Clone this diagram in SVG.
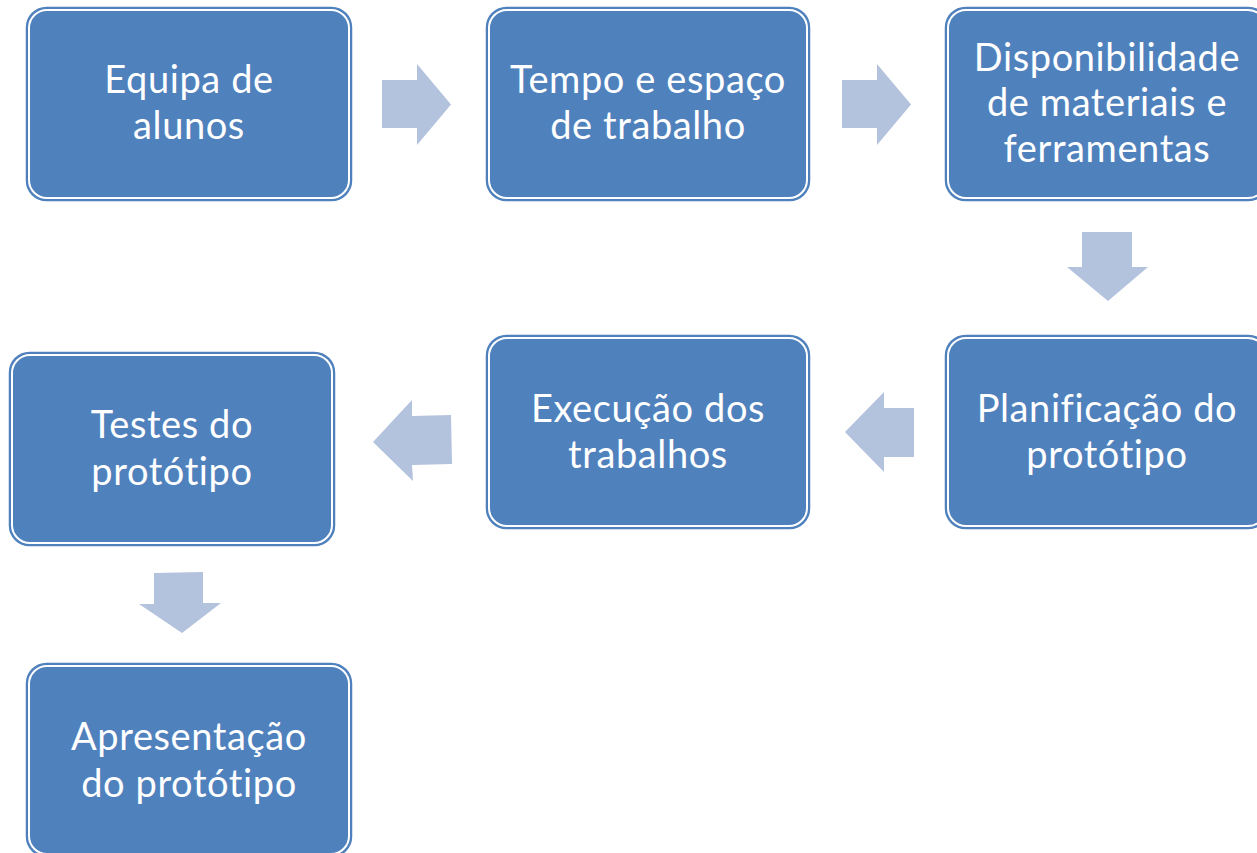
<svg xmlns="http://www.w3.org/2000/svg" width="1257" height="853" viewBox="0 0 1257 853">
<style>
.outer{fill:#4F81BD;stroke:#4F81BD;stroke-width:1.5}
.inner{fill:#4F81BD;stroke:#FFFFFF;stroke-width:2}
.lbl{font-family:Lato,"Open Sans","Liberation Sans",sans-serif;font-size:38px;font-weight:400;letter-spacing:0.6px;fill:#FFFFFF;text-anchor:middle}
.arr{fill:#B3C2DD}
</style>
<rect width="1257" height="853" fill="#FFFFFF"/>
<g id="connectors">
<polygon class="arr" points="382,80 417,80 417,64 451,104.5 417,145 417,128 382,128"/>
<polygon class="arr" points="842,80 877,80 877,64 911,104.5 877,145 877,128 842,128"/>
<polygon class="arr" points="1082,232 1132,232 1132,267 1148,267 1108,301 1067,267 1082,267"/>
<polygon class="arr" points="914,408 914,457 884,457 884,472 845,432 884,392 884,408"/>
<polygon class="arr" points="451,415 452,464 412,465 413,481 373,442 412,400 412,416"/>
<polygon class="arr" points="154,573 203,572 203,603 221,603 182,633 139,604 154,604"/>
</g>
<g id="n1">
<rect class="outer" x="26.5" y="7.5" width="325" height="193" rx="20"/>
<rect class="inner" x="29" y="10" width="320" height="188" rx="18"/>
<text class="lbl" x="189" y="93">Equipa de</text>
<text class="lbl" x="189" y="139">alunos</text>
</g>
<g id="n2">
<rect class="outer" x="486.5" y="7.5" width="323" height="193" rx="20"/>
<rect class="inner" x="489" y="10" width="318" height="188" rx="18"/>
<text class="lbl" x="648" y="93">Tempo e espaço</text>
<text class="lbl" x="648" y="139">de trabalho</text>
</g>
<g id="n3">
<rect class="outer" x="945.5" y="7.5" width="323" height="193" rx="20"/>
<rect class="inner" x="948" y="10" width="318" height="188" rx="18"/>
<text class="lbl" x="1107" y="71">Disponibilidade</text>
<text class="lbl" x="1107" y="116">de materiais e</text>
<text class="lbl" x="1107" y="162">ferramentas</text>
</g>
<g id="n4">
<rect class="outer" x="945.5" y="335.5" width="323" height="193" rx="20"/>
<rect class="inner" x="948" y="338" width="318" height="188" rx="18"/>
<text class="lbl" x="1107" y="422">Planificação do</text>
<text class="lbl" x="1107" y="468">protótipo</text>
</g>
<g id="n5">
<rect class="outer" x="486.5" y="335.5" width="323" height="193" rx="20"/>
<rect class="inner" x="489" y="338" width="318" height="188" rx="18"/>
<text class="lbl" x="648" y="422">Execução dos</text>
<text class="lbl" x="648" y="468">trabalhos</text>
</g>
<g id="n6">
<rect class="outer" x="9.5" y="352.5" width="325" height="193" rx="20"/>
<rect class="inner" x="12" y="355" width="320" height="188" rx="18"/>
<text class="lbl" x="172" y="438">Testes do</text>
<text class="lbl" x="172" y="485">protótipo</text>
</g>
<g id="n7">
<rect class="outer" x="26.5" y="663.5" width="325" height="193" rx="20"/>
<rect class="inner" x="29" y="666" width="320" height="188" rx="18"/>
<text class="lbl" x="189" y="750">Apresentação</text>
<text class="lbl" x="189" y="797">do protótipo</text>
</g>
</svg>
